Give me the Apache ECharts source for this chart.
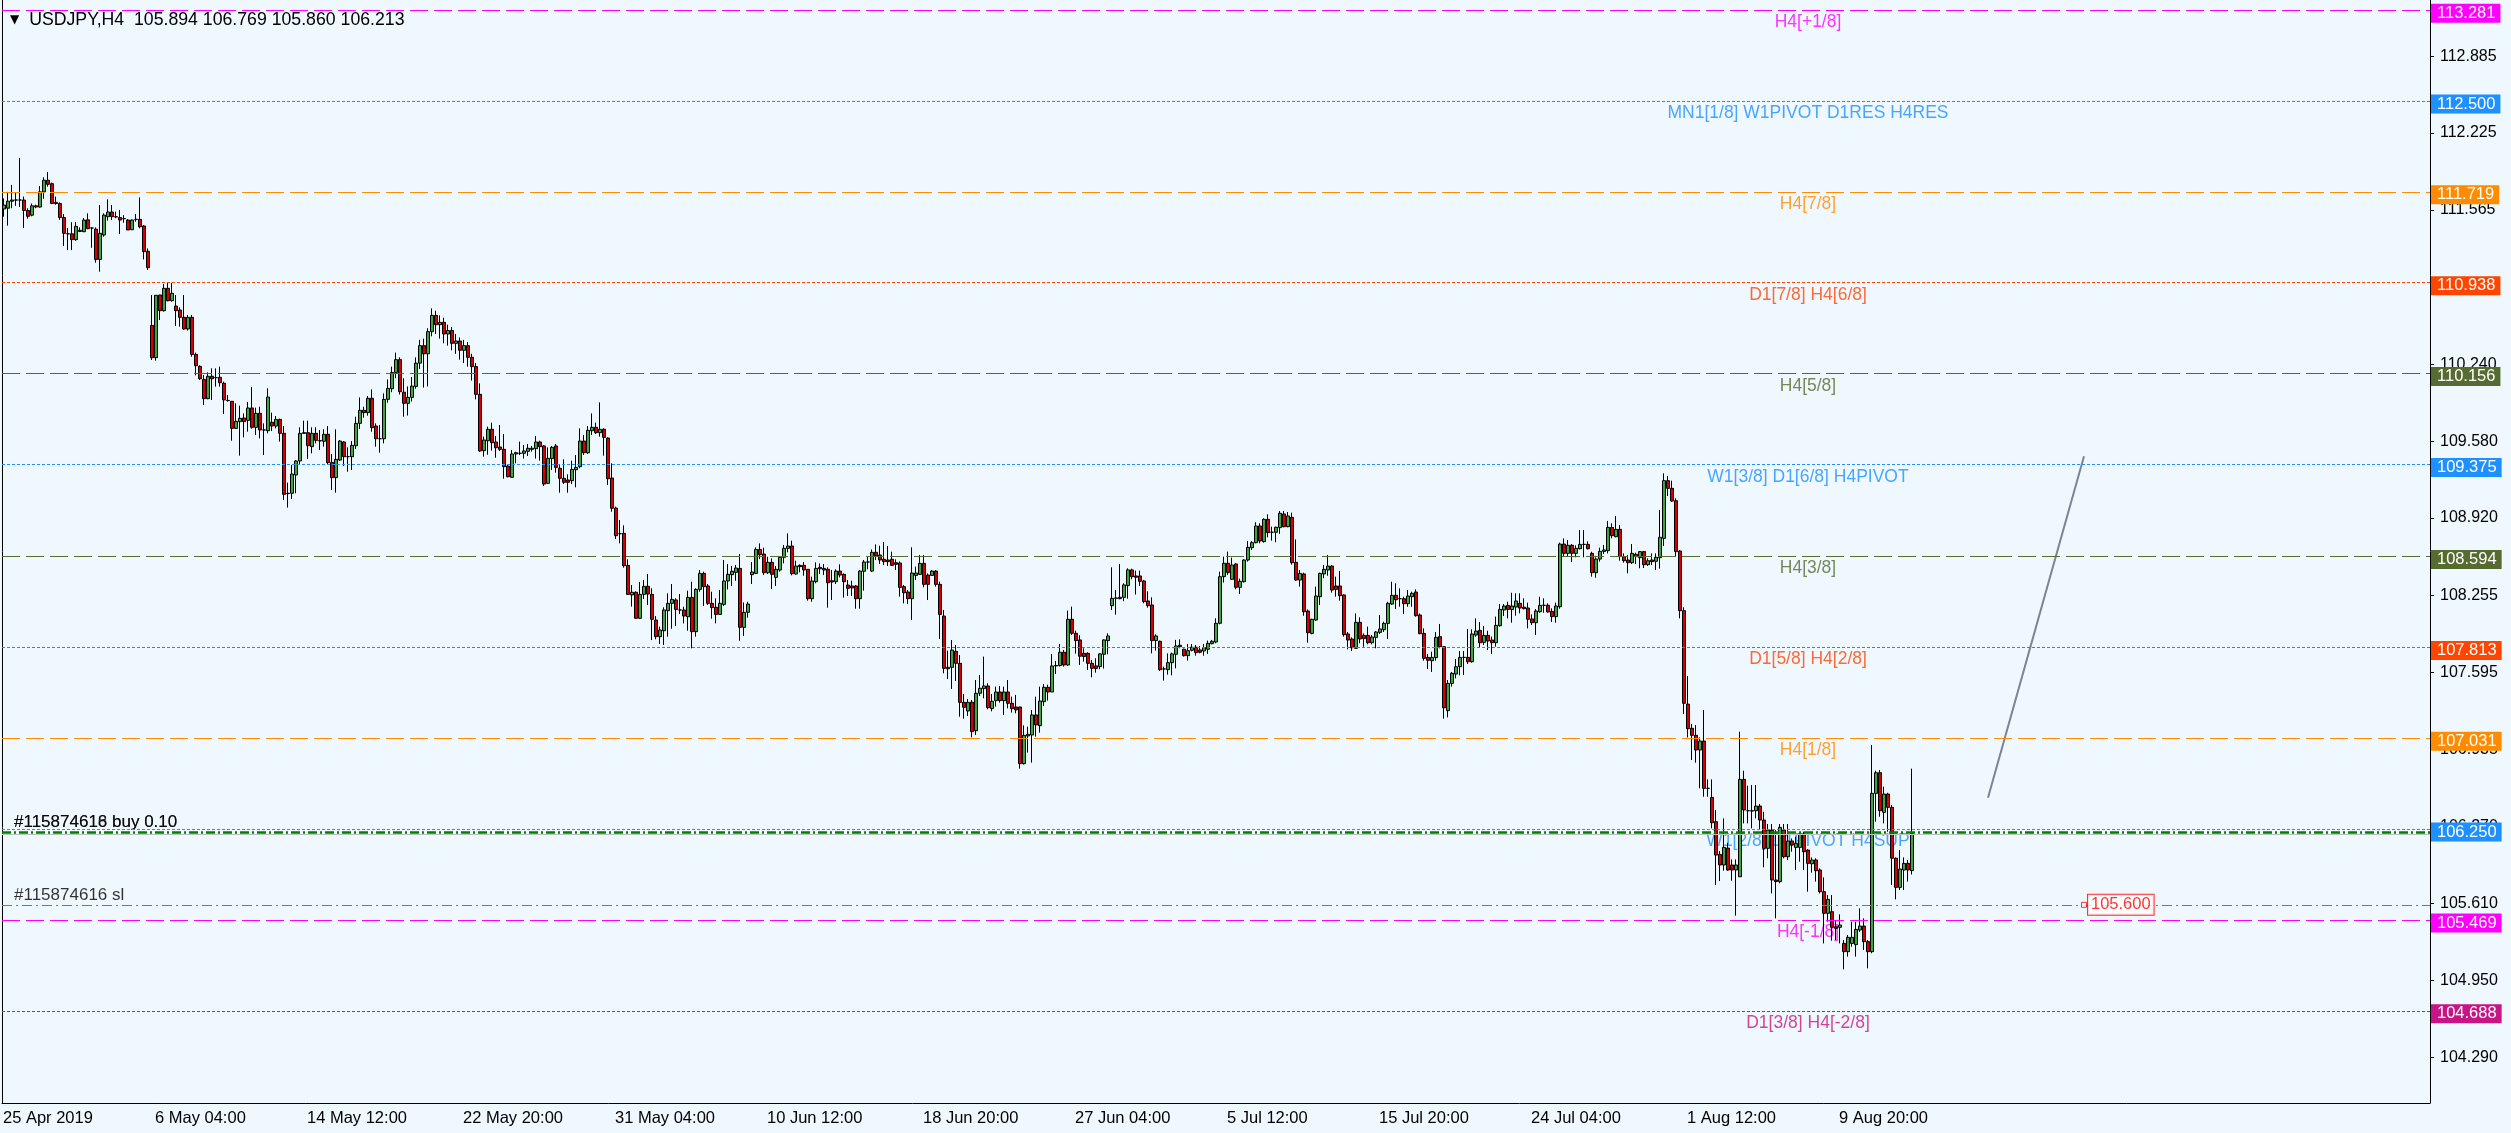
<!DOCTYPE html>
<html><head><meta charset="utf-8">
<script src="https://cdn.jsdelivr.net/npm/echarts@6/dist/echarts.min.js"></script>
<style>html,body{margin:0;padding:0;background:#F0F8FF;overflow:hidden}#c{width:2511px;height:1133px}</style>
</head><body><div id="c"></div>
<script>
// H4 candles: [open, close, low, high]
const ohlc = [
[111.573,111.607,111.507,111.664],[111.58,111.64,111.43,111.72],[111.64,111.65,111.58,111.78],[111.65,111.65,111.60,111.71],[111.65,111.65,111.59,112.01],
[111.65,111.56,111.41,111.68],[111.56,111.51,111.49,111.58],[111.52,111.60,111.51,111.62],[111.60,111.59,111.58,111.61],[111.59,111.72,111.585,111.77],
[111.72,111.82,111.66,111.845],[111.82,111.785,111.765,111.89],[111.79,111.62,111.615,111.80],[111.63,111.62,111.61,111.68],[111.62,111.50,111.48,111.63],
[111.50,111.364,111.255,111.53],[111.36,111.36,111.22,111.41],[111.36,111.31,111.22,111.46],[111.31,111.424,111.30,111.46],[111.38,111.39,111.375,111.415],
[111.378,111.478,111.375,111.495],[111.48,111.404,111.40,111.536],[111.41,111.41,111.24,111.415],[111.40,111.14,111.112,111.415],[111.14,111.364,111.035,111.607],
[111.35,111.521,111.335,111.536],[111.507,111.547,111.473,111.656],[111.547,111.507,111.478,111.607],[111.507,111.505,111.493,111.55],[111.50,111.478,111.358,111.565],
[111.49,111.49,111.455,111.52],[111.478,111.393,111.393,111.487],[111.395,111.478,111.393,111.484],[111.484,111.484,111.464,111.53],[111.484,111.421,111.407,111.673],
[111.427,111.207,111.14,111.435],[111.21,111.07,111.05,111.235],[110.574,110.297,110.277,110.835],[110.297,110.832,110.271,110.835],[110.835,110.70,110.62,110.835],
[110.70,110.892,110.692,110.929],[110.892,110.786,110.78,110.94],[110.786,110.849,110.778,110.94],[110.74,110.70,110.569,110.835],[110.706,110.643,110.563,110.729],
[110.643,110.543,110.534,110.835],[110.543,110.643,110.529,110.663],[110.643,110.325,110.305,110.663],[110.325,110.228,110.145,110.34],[110.222,110.116,110.105,110.231],
[110.11,109.945,109.89,110.148],[109.945,110.137,109.94,110.171],[110.137,110.116,109.934,110.205],[110.125,110.125,110.048,110.205],[110.128,110.082,110.048,110.22],
[110.077,109.934,109.813,110.091],[109.93,109.928,109.92,109.976],[109.922,109.69,109.584,109.925],[109.69,109.75,109.685,109.905],[109.748,109.776,109.456,109.885],
[109.779,109.748,109.613,109.819],[109.759,109.865,109.662,109.916],[109.865,109.699,109.687,110.045],[109.699,109.819,109.633,109.868],[109.819,109.676,109.604,109.876],
[109.676,109.676,109.461,109.733],[109.67,109.959,109.647,110.034],[109.742,109.71,109.667,109.825],[109.71,109.767,109.69,109.796],[109.767,109.647,109.576,109.773],
[109.647,109.124,109.075,109.71],[109.13,109.133,109.01,109.224],[109.133,109.298,109.084,109.376],[109.29,109.41,109.133,109.418],[109.41,109.647,109.376,109.699],
[109.647,109.653,109.647,109.756],[109.653,109.541,109.427,109.756],[109.533,109.647,109.476,109.699],[109.647,109.587,109.561,109.699],[109.585,109.582,109.504,109.676],
[109.579,109.639,109.533,109.682],[109.639,109.396,109.384,109.71],
[109.398,109.267,109.161,109.47],[109.267,109.424,109.138,109.682],[109.418,109.581,109.41,109.59],[109.573,109.447,109.367,109.581],[109.447,109.447,109.318,109.527],
[109.447,109.544,109.333,109.581],[109.541,109.733,109.513,109.79],[109.733,109.845,109.684,109.956],[109.845,109.825,109.782,109.876],[109.825,109.948,109.799,109.968],
[109.948,109.696,109.661,110.025],[109.71,109.601,109.533,109.733],[109.601,109.601,109.481,109.719],[109.601,109.939,109.561,109.99],[109.939,110.033,109.91,110.11],
[110.03,110.17,110.00,110.22],[110.17,110.28,110.12,110.34],[110.28,110.005,109.98,110.30],[110.0,109.905,109.79,110.12],[109.905,109.956,109.80,110.05],
[109.956,110.053,109.92,110.13],[110.05,110.25,110.03,110.30],[110.25,110.40,110.20,110.45],[110.40,110.33,110.04,110.46],[110.33,110.52,110.05,110.55],
[110.52,110.66,110.48,110.72],[110.66,110.58,110.50,110.70],[110.58,110.60,110.46,110.66],[110.60,110.50,110.42,110.64],[110.50,110.53,110.40,110.58],
[110.53,110.42,110.36,110.56],[110.42,110.44,110.33,110.50],[110.44,110.36,110.28,110.47],[110.36,110.40,110.25,110.45],[110.40,110.30,110.22,110.43],
[110.30,110.22,110.10,110.33],[110.22,109.982,109.939,110.25],
[109.982,109.496,109.487,110.076],[109.499,109.59,109.447,109.619],[109.584,109.682,109.464,109.705],[109.682,109.567,109.499,109.739],[109.573,109.524,109.438,109.624],
[109.53,109.51,109.496,109.719],[109.51,109.361,109.258,109.641],[109.367,109.275,109.27,109.375],[109.27,109.47,109.267,109.504],[109.47,109.481,109.39,109.49],
[109.476,109.476,109.461,109.576],[109.476,109.496,109.43,109.547],[109.493,109.519,109.453,109.556],[109.51,109.519,109.49,109.539],[109.516,109.573,109.43,109.624],
[109.573,109.533,109.413,109.584],[109.539,109.212,109.195,109.547],[109.218,109.433,109.212,109.527],[109.43,109.527,109.333,109.539],[109.539,109.355,109.31,109.556],
[109.347,109.261,109.138,109.375],[109.261,109.227,109.212,109.424],[109.247,109.227,109.138,109.295],[109.241,109.338,109.212,109.413],[109.335,109.355,109.184,109.461],
[109.361,109.581,109.347,109.69],[109.581,109.481,109.461,109.633],[109.481,109.673,109.47,109.71],[109.67,109.699,109.633,109.819],[109.699,109.653,109.642,109.739],
[109.653,109.682,109.619,109.913],[109.682,109.613,109.456,109.69],[109.607,109.258,109.204,109.613],[109.264,109.004,108.975,109.39],[109.006,108.769,108.74,109.018],
[108.786,108.786,108.703,108.903],[108.789,108.511,108.494,108.858],[108.514,108.265,108.26,108.566],[108.26,108.283,108.16,108.345],[108.283,108.06,108.054,108.291],
[108.06,108.265,108.054,108.371],[108.265,108.334,108.225,108.388],[108.334,108.268,108.174,108.44],
[108.265,108.051,107.873,108.317],[108.045,107.902,107.879,108.079],[107.902,107.959,107.839,107.988],[107.953,108.131,107.83,108.154],[108.125,108.188,107.902,108.274],
[108.188,108.222,107.97,108.354],[108.217,108.136,107.993,108.231],[108.131,108.131,108.096,108.268],[108.131,108.079,108.016,108.159],[108.073,108.239,107.953,108.297],
[108.239,107.945,107.802,108.374],[107.945,108.308,107.902,108.317],[108.308,108.445,108.288,108.474],[108.445,108.331,108.165,108.46],[108.337,108.188,108.174,108.354],
[108.188,108.151,108.056,108.288],[108.154,108.093,108.016,108.231],[108.093,108.188,108.088,108.302],[108.179,108.38,108.165,108.56],[108.38,108.437,108.308,108.525],
[108.434,108.463,108.337,108.508],[108.454,108.491,108.382,108.517],[108.488,107.982,107.867,108.611],[107.982,108.111,107.908,108.196],[108.111,108.182,108.065,108.202],
[108.434,108.457,108.354,108.543],[108.445,108.651,108.44,108.669],[108.651,108.606,108.568,108.703],[108.611,108.451,108.431,108.666],[108.451,108.54,108.44,108.588],
[108.54,108.437,108.311,108.574],[108.411,108.48,108.337,108.508],[108.474,108.583,108.46,108.594],[108.583,108.66,108.531,108.689],[108.66,108.68,108.626,108.789],
[108.68,108.443,108.428,108.726],[108.44,108.508,108.434,108.554],[108.514,108.503,108.454,108.523],[108.514,108.474,108.425,108.543],[108.48,108.228,108.211,108.48],
[108.228,108.38,108.202,108.417],[108.374,108.488,108.36,108.54],[108.497,108.485,108.44,108.531],[108.488,108.474,108.431,108.525],[108.48,108.365,108.151,108.497],
[108.382,108.371,108.217,108.474],[108.374,108.465,108.354,108.48],[108.465,108.431,108.411,108.523],[108.437,108.374,108.237,108.445],[108.345,108.317,108.251,108.388],
[108.337,108.32,108.251,108.382],[108.337,108.228,108.142,108.345],[108.228,108.465,108.142,108.474],[108.463,108.543,108.297,108.56],[108.543,108.543,108.48,108.588],
[108.465,108.626,108.457,108.651],[108.626,108.597,108.56,108.694],[108.603,108.56,108.525,108.683],[108.566,108.546,108.517,108.714],[108.56,108.546,108.508,108.68],
[108.566,108.514,108.508,108.631],[108.537,108.523,108.474,108.566],[108.534,108.325,108.245,108.548],[108.331,108.279,108.188,108.345],[108.285,108.228,108.182,108.302],
[108.228,108.448,108.045,108.669],[108.428,108.448,108.388,108.503],[108.437,108.531,108.431,108.603],[108.531,108.351,108.325,108.603],[108.431,108.351,108.217,108.445],
[108.428,108.465,108.423,108.474],[108.465,108.351,108.331,108.474],[108.351,108.093,107.882,108.374],[108.079,107.63,107.587,108.131],[107.627,107.639,107.538,107.782],
[107.639,107.787,107.453,107.873],[107.776,107.673,107.521,107.83],[107.673,107.338,107.215,107.744],[107.338,107.295,107.198,107.41],[107.264,107.338,107.221,107.367],
[107.339,107.087,107.038,107.359],[107.095,107.416,107.058,107.53],[107.416,107.459,107.393,107.573],[107.456,107.479,107.373,107.731],[107.479,107.293,107.279,107.502],
[107.284,107.347,107.261,107.41],[107.353,107.427,107.301,107.473],[107.427,107.353,107.336,107.479],[107.353,107.427,107.23,107.473],[107.427,107.33,107.287,107.53],
[107.33,107.284,107.25,107.387],[107.298,107.273,107.244,107.402],[107.298,106.812,106.769,107.301],[106.812,107.055,106.804,107.141],[107.05,107.064,106.907,107.13],
[107.058,107.23,106.821,107.273],[107.23,107.144,107.044,107.387],[107.138,107.35,107.078,107.473],[107.344,107.467,107.307,107.496],[107.467,107.427,107.353,107.49],
[107.427,107.651,107.427,107.754],[107.651,107.654,107.582,107.694],[107.654,107.768,107.645,107.839],[107.768,107.659,107.645,107.788],[107.659,108.051,107.651,108.126],
[108.051,107.931,107.917,108.16],[107.931,107.868,107.756,107.954],[107.874,107.734,107.659,107.914],[107.759,107.731,107.688,107.802],[107.759,107.673,107.616,107.768],
[107.673,107.63,107.553,107.702],[107.651,107.628,107.593,107.716],[107.645,107.754,107.622,107.759],[107.751,107.874,107.628,107.879],[107.868,107.908,107.751,107.931],
[108.168,108.231,108.131,108.497],[108.231,108.234,108.091,108.303],[108.228,108.24,108.223,108.526],[108.24,108.346,108.206,108.36],[108.34,108.475,108.228,108.489],
[108.475,108.417,108.394,108.486],[108.423,108.412,108.263,108.469],[108.423,108.377,108.337,108.469],[108.38,108.203,108.188,108.389],[108.208,108.168,108.151,108.291],
[108.174,107.868,107.759,108.24],[107.868,107.908,107.782,107.922],[107.862,107.619,107.608,107.868],[107.625,107.625,107.525,107.645],[107.619,107.679,107.576,107.759],
[107.679,107.754,107.57,107.765],[107.751,107.822,107.63,107.874],[107.828,107.816,107.802,107.879],[107.794,107.739,107.731,107.799],[107.739,107.782,107.696,107.839],
[107.785,107.811,107.776,107.839],[107.811,107.765,107.739,107.831],[107.788,107.768,107.759,107.822],[107.779,107.808,107.739,107.839],[107.794,107.845,107.754,107.868],
[107.842,107.862,107.836,107.874],[107.856,108.017,107.845,108.06],[108.017,108.417,108.008,108.46],[108.417,108.532,108.366,108.589],[108.532,108.452,108.432,108.632],
[108.394,108.517,108.389,108.58],[108.526,108.326,108.309,108.532],[108.326,108.377,108.269,108.4],[108.374,108.56,108.366,108.566],[108.56,108.669,108.546,108.723],
[108.666,108.709,108.646,108.723],[108.709,108.852,108.703,108.884],[108.852,108.723,108.703,108.875],[108.718,108.909,108.709,108.918],[108.909,108.795,108.755,108.952],
[108.798,108.798,108.726,108.846],[108.798,108.841,108.712,108.846],[108.838,108.961,108.784,108.981],[108.955,108.846,108.841,108.981],[108.846,108.938,108.841,108.972],
[108.926,108.537,108.52,108.966],[108.54,108.388,108.382,108.737],[108.388,108.445,108.331,108.474],[108.44,108.116,108.082,108.451],[108.122,107.936,107.85,108.136],
[107.93,108.051,107.922,108.056],[108.045,108.251,108.039,108.331],[108.245,108.445,108.174,108.451],[108.44,108.48,108.403,108.517],[108.474,108.508,108.425,108.603],
[108.508,108.302,108.28,108.517],[108.337,108.308,108.245,108.417],[108.337,108.254,108.211,108.465],[108.26,107.919,107.902,108.265],[107.925,107.873,107.793,107.942],
[107.882,107.807,107.779,107.896],[107.802,108.025,107.796,108.102],[108.025,107.882,107.845,108.068],[107.913,107.885,107.816,107.93],[107.913,107.85,107.836,107.988],
[107.85,107.899,107.836,107.916],[107.896,107.942,107.802,107.95],[107.939,107.968,107.925,108.088],[107.962,108.016,107.942,108.031],[108.016,108.188,107.882,108.202],
[108.182,108.257,108.174,108.374],[108.257,108.219,108.139,108.36],[108.228,108.228,108.159,108.317],[108.228,108.185,108.096,108.245],[108.185,108.251,108.159,108.302],
[108.245,108.274,108.159,108.288],[108.285,108.082,108.074,108.308],[108.088,107.928,107.922,108.102],[107.93,107.716,107.696,107.973],[107.724,107.699,107.624,107.753],
[107.696,107.724,107.599,107.773],[107.722,107.896,107.696,107.942],[107.902,107.816,107.802,108.011],[107.816,107.292,107.198,107.822],[107.267,107.501,107.209,107.53],
[107.501,107.587,107.473,107.599],[107.581,107.644,107.544,107.71],[107.644,107.724,107.57,107.779],[107.724,107.724,107.573,107.779],[107.724,107.687,107.667,107.968],
[107.687,107.925,107.679,107.965],[107.916,107.95,107.902,108.059],[107.956,107.85,107.81,108.028],[107.853,107.913,107.83,107.993],[107.913,107.865,107.787,107.953],
[107.873,107.85,107.753,107.902],[107.85,107.999,107.816,108.074],[107.996,108.136,107.988,108.182],[108.131,108.165,108.079,108.182],[108.171,108.136,108.059,108.202],
[108.134,108.165,108.022,108.279],[108.156,108.208,108.082,108.274],[108.188,108.148,108.102,108.274],[108.156,108.142,108.136,108.231],[108.148,108.051,107.973,108.194],
[108.054,108.022,108.002,108.093],[108.022,108.122,107.916,108.139],[108.116,108.171,108.108,108.245],[108.171,108.171,108.108,108.231],[108.171,108.114,108.108,108.188],
[108.119,108.074,108.028,108.145],[108.074,108.165,108.022,108.194],[108.159,108.697,108.142,108.709],[108.697,108.617,108.594,108.746],[108.617,108.686,108.594,108.732],
[108.686,108.617,108.543,108.697],[108.617,108.66,108.583,108.686],[108.657,108.694,108.651,108.817],[108.694,108.694,108.583,108.817],[108.694,108.657,108.651,108.72],
[108.617,108.451,108.417,108.631],[108.451,108.568,108.408,108.583],[108.568,108.634,108.546,108.666],[108.634,108.646,108.612,108.689],[108.64,108.84,108.617,108.895],
[108.84,108.769,108.746,108.875],[108.76,108.823,108.755,108.938],[108.823,108.589,108.554,108.86],[108.589,108.554,108.537,108.617],[108.56,108.537,108.446,108.603],
[108.537,108.617,108.526,108.697],[108.609,108.589,108.526,108.623],[108.58,108.632,108.489,108.637],[108.632,108.52,108.491,108.637],[108.52,108.554,108.509,108.574],
[108.56,108.546,108.517,108.617],[108.549,108.583,108.474,108.617],[108.58,108.755,108.486,108.989],[108.746,109.241,108.68,109.304],[109.241,109.175,109.109,109.281],
[109.175,109.066,109.058,109.241],[109.069,108.632,108.589,109.089],[108.637,108.125,108.059,108.646],[108.125,107.33,107.238,108.154],
[107.323,107.112,107.037,107.564],[107.115,107.055,106.843,107.152],[107.055,106.929,106.82,107.143],[106.929,107.006,106.6,107.037],[107.006,106.6,106.528,107.272],
[106.6,106.6,106.528,106.677],[106.522,106.305,106.256,106.677],[106.314,106.027,105.77,106.414],[106.033,105.942,105.804,106.062],[105.942,106.093,105.893,106.342],
[106.087,105.899,105.893,106.133],[105.942,105.899,105.807,105.99],[105.899,105.942,105.507,105.99],[105.841,106.677,105.841,107.086],[106.677,106.414,106.299,106.751],
[106.408,106.408,106.299,106.623],[106.408,106.405,106.256,106.628],[106.408,106.448,106.342,106.628],[106.448,106.328,106.242,106.465],[106.328,106.085,105.922,106.399],
[106.085,106.242,105.999,106.294],[106.242,105.813,105.698,106.294],[105.813,105.80,105.484,106.242],[105.799,106.265,105.784,106.294],[106.242,106.013,105.999,106.294],
[106.013,106.148,105.985,106.294],[106.148,106.113,106.056,106.17],[106.093,106.128,105.899,106.185],[106.093,106.208,105.97,106.213],[106.208,106.056,105.899,106.228],
[106.07,105.956,105.713,106.079],[105.953,105.985,105.876,106.007],[105.985,105.893,105.799,105.999],[105.899,105.713,105.698,105.913],[105.713,105.527,105.269,105.836],
[105.527,105.647,105.455,105.684],[105.541,105.407,105.292,105.684],[105.412,105.398,105.298,105.464],[105.407,105.427,105.269,105.518],[105.269,105.198,105.046,105.298],
[105.198,105.321,105.155,105.341],[105.269,105.321,105.241,105.455],[105.258,105.389,105.155,105.455],[105.384,105.418,105.369,105.57],[105.418,105.284,105.212,105.484],
[105.284,105.198,105.055,105.298],[105.198,106.557,105.184,106.972],[106.557,106.734,106.314,106.751],[106.734,106.408,106.356,106.757],[106.394,106.551,106.299,106.614],
[106.551,106.437,106.228,106.562],[106.437,106.0,105.77,106.457],[106.0,105.75,105.647,106.007],[105.75,105.907,105.727,106.07],[105.899,105.956,105.727,106.007],
[105.956,105.899,105.799,105.985],[105.894,106.213,105.860,106.769]
];

const dateLabels = ['25 Apr 2019','6 May 04:00','14 May 12:00','22 May 20:00','31 May 04:00','10 Jun 12:00','18 Jun 20:00','27 Jun 04:00','5 Jul 12:00','15 Jul 20:00','24 Jul 04:00','1 Aug 12:00','9 Aug 20:00'];
const dateLabelBars = [0,38,76,115,153,191,230,268,306,344,382,421,459];
const totalSlots = 607;

const priceTicks = [112.885,112.225,111.565,110.905,110.240,109.580,108.920,108.255,107.595,106.935,106.270,105.610,104.950,104.290];

const levelPrices = [113.281,112.500,111.719,110.938,110.156,109.375,108.594,107.813,107.031,106.250,105.469,104.688];
const levelNames = ['H4[+1/8]','MN1[1/8] W1PIVOT D1RES H4RES','H4[7/8]','D1[7/8] H4[6/8]','H4[5/8]','W1[3/8] D1[6/8] H4PIVOT','H4[3/8]','D1[5/8] H4[2/8]','H4[1/8]','W1[2/8] D1PIVOT H4SUP','H4[-1/8]','D1[3/8] H4[-2/8]'];
const levelColors = ['#FF00FF','#1E90FF','#FF8C00','#FF4500','#556B2F','#1E90FF','#556B2F','#FF4500','#FF8C00','#1E90FF','#FF00FF','#C71585'];
const levelDashed = [true,false,true,false,true,false,true,false,true,false,true,false];

const orderPrice = 106.225, bidPrice = 106.213, stopPrice = 105.600;
const orderTexts = ['#115874616 buy 0.10','#115874618 buy 0.10'];
const stopText = '#115874616 sl';
const trendLine = [[496,106.52],[520,109.45]];

const FONT = 'Liberation Sans';
const cats = Array.from({length: totalSlots}, (_, i) => String(i));
const labelMap = {}; dateLabelBars.forEach((b, i) => labelMap[b] = dateLabels[i]);
const last = ohlc[ohlc.length - 1];

const levelLines = levelPrices.map((p, i) => ({
  yAxis: p,
  lineStyle: {color: levelColors[i], width: 1, type: levelDashed[i] ? [18, 6] : [3, 2]},
  label: {show: true, position: 'end', distance: 1, offset: [0, 3], formatter: p.toFixed(3), color: '#fff',
    backgroundColor: levelColors[i], fontFamily: FONT, fontSize: 16.5, padding: [1, 5, 1, 6], lineHeight: 17}
}));

const chart = echarts.init(document.getElementById('c'), null, {renderer: 'canvas'});
chart.setOption({
  animation: false,
  backgroundColor: '#F0F8FF',
  title: {
    left: 5, top: 6,
    text: '{t|▼} ' + 'USDJPY,H4  ' + last[0].toFixed(3) + ' ' + last[3].toFixed(3) + ' ' + last[2].toFixed(3) + ' ' + last[1].toFixed(3),
    textStyle: {fontFamily: FONT, fontSize: 17.7, fontWeight: 'normal', color: '#000',
      rich: {t: {fontFamily: 'DejaVu Sans', fontSize: 12, color: '#000', padding: [0, 5, 0, 0]}}}
  },
  grid: {left: 2, right: 81, top: 0, bottom: 30},
  xAxis: {
    type: 'category', data: cats, boundaryGap: true,
    axisLine: {lineStyle: {color: '#000', width: 1}},
    axisTick: {alignWithLabel: true, length: 4, lineStyle: {color: '#000'}, interval: (i) => labelMap[i] !== undefined},
    axisLabel: {interval: (i) => labelMap[i] !== undefined, formatter: (v, i) => labelMap[i] || '',
      align: 'left', margin: 7, color: '#000', fontFamily: FONT, fontSize: 16.5, padding: [0, 0, 0, -1]},
    splitLine: {show: false}
  },
  yAxis: [{
    type: 'value', position: 'right', min: 103.899, max: 113.367, scale: true,
    axisLine: {show: true, lineStyle: {color: '#000', width: 1}},
    axisTick: {show: true, length: 4, lineStyle: {color: '#000'}, customValues: priceTicks},
    axisLabel: {customValues: priceTicks, formatter: (v) => v.toFixed(3), margin: 10, color: '#000', fontFamily: FONT, fontSize: 16},
    splitLine: {show: false}
  }, {
    type: 'value', position: 'left', min: 103.899, max: 113.367,
    axisLine: {show: true, onZero: false, lineStyle: {color: '#000', width: 1}},
    axisTick: {show: false}, axisLabel: {show: false}, splitLine: {show: false}
  }],
  series: [
    {
      type: 'scatter', name: 'levels', z: 1, symbolSize: 0, silent: true,
      data: levelPrices.map((p, i) => ({value: [451, p], label: {color: levelColors[i], formatter: levelNames[i]}})),
      label: {show: true, position: 'bottom', distance: 3, fontFamily: FONT, fontSize: 17.5},
      markLine: {symbol: 'none', silent: true, data: levelLines.concat([
        {yAxis: bidPrice, lineStyle: {color: '#C0C0C0', width: 1, type: 'solid'}, label: {show: false}},
        {yAxis: orderPrice, lineStyle: {color: '#008000', width: 2.5, type: [9, 3, 2, 3]}, label: {show: false}},
        {yAxis: stopPrice, lineStyle: {color: '#FF4500', width: 1, type: [10, 4, 2, 4]}, label: {show: false}}
      ])}
    },
    {
      type: 'scatter', name: 'orders', z: 4, symbolSize: 0, silent: true,
      data: orderTexts.map(t => ({value: [2, orderPrice], label: {formatter: t}})).concat([{value: [2, stopPrice], label: {formatter: stopText}}]),
      label: {show: true, position: 'right', distance: 2, offset: [0, -10], color: '#000', fontFamily: FONT, fontSize: 17}
    },
    {
      type: 'candlestick', name: 'USDJPY', z: 3, data: ohlc, barWidth: 3,
      itemStyle: {color: '#3FA33F', color0: '#D40000', borderColor: '#000', borderColor0: '#000', borderWidth: 1}
    },
    {
      type: 'line', name: 'trend', z: 4, data: trendLine, showSymbol: false, silent: true,
      lineStyle: {color: '#7A8494', width: 2}
    },
    {
      type: 'scatter', name: 'slLabel', z: 5, silent: true, symbol: 'rect', symbolSize: [5, 5],
      itemStyle: {color: '#fff', borderColor: '#FF0000', borderWidth: 1},
      data: [[520, stopPrice]],
      label: {show: true, position: 'right', distance: 1, formatter: stopPrice.toFixed(3), color: '#FF0000',
        backgroundColor: '#fff', borderColor: '#FF0000', borderWidth: 1, padding: [2, 3, 1, 3], fontFamily: FONT, fontSize: 16.5}
    }
  ]
});
</script></body></html>
